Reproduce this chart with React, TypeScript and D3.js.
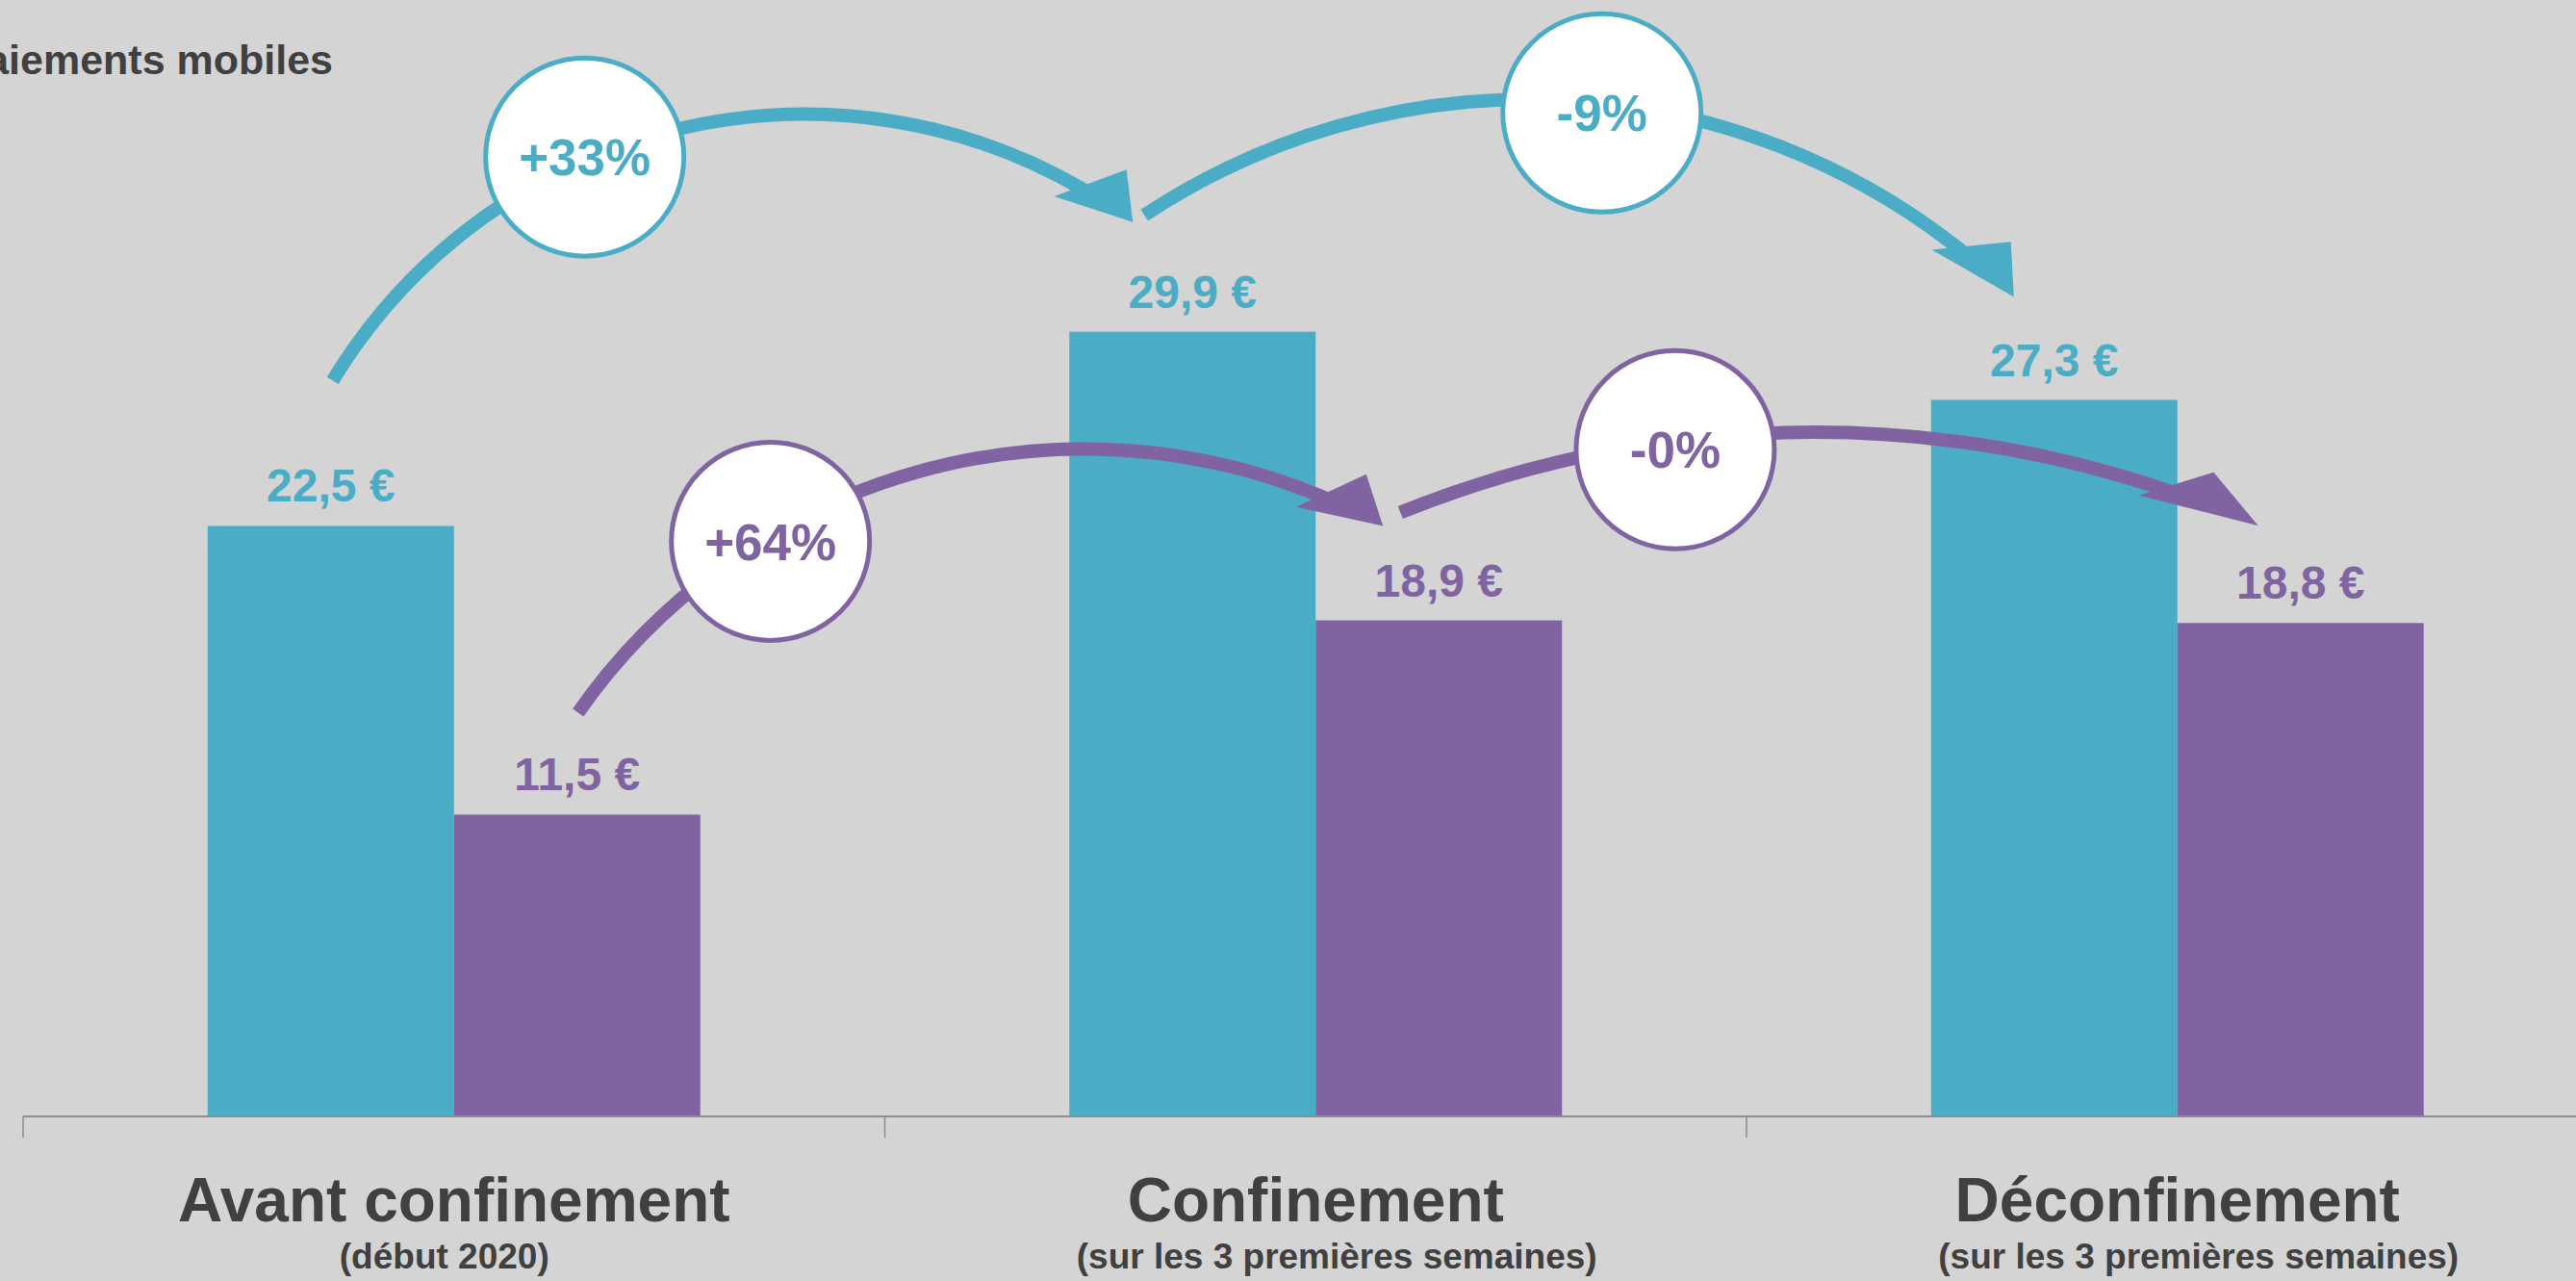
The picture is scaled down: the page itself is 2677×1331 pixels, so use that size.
import React from 'react';
import * as d3 from 'd3';

// ---------- data ----------
const categories = ['Avant confinement', 'Confinement', 'Déconfinement'];
const subtitles = ['(début 2020)', '(sur les 3 premières semaines)', '(sur les 3 premières semaines)'];
const seriesNames = ['Série bleue', 'Série violette'];
const valuesBlue = [22.5, 29.9, 27.3];
const valuesPurple = [11.5, 18.9, 18.8];
const changesBlue = ['+33%', '-9%'];
const changesPurple = ['+64%', '-0%'];
const titleText = 'Paiements mobiles';

// ---------- style / layout ----------
const W = 2677;
const H = 1331;
const BG = '#d4d4d4';
const TEXT = '#404040';
const COLORS = ['#4bacc6', '#8064a2'];
const FONT = '"Liberation Sans", Arial, Helvetica, sans-serif';
const AXIS_Y = 1160;
const STEP = 895.5;
const X_START = 24;
const BAND_PAD = 1 - 512 / STEP;
const PX_PER_UNIT = 27.27;
const SUBTITLE_SHIFT = [-10, 22, 22];

// arrow annotation geometry (pixel offsets relative to bar centre / bar top)
const arrowLayout = [
  { s: 0, from: 0, to: 1, so: [2, -151], to_: [-62, -114], r: 574, lab: 0.372, labDr: 3, back: [85, 35], rad: [-21, 41] },
  { s: 0, from: 1, to: 2, so: [-50, -121], to_: [-42, -107], r: 722, lab: 0.51, labDr: -10, back: [98, 40], rad: [-18, 40] },
  { s: 1, from: 0, to: 1, so: [1, -106], to_: [-58, -98], r: 642, lab: 0.288, labDr: -6, back: [92, 39], rad: [-20, 40] },
  { s: 1, from: 1, to: 2, so: [-40, -112], to_: [-44, -101], r: 1146, lab: 0.322, labDr: -9, back: [128, 63], rad: [-14, 34] },
];

const locale = d3.formatLocale({ decimal: ',', thousands: ' ', grouping: [3], currency: ['', ' €'] });
const fmt = locale.format('.1f');

export default function App() {
  const seriesValues = [valuesBlue, valuesPurple];
  const seriesChanges = [changesBlue, changesPurple];

  const x0 = d3
    .scaleBand<string>()
    .domain(categories)
    .range([X_START, X_START + STEP * categories.length])
    .paddingInner(BAND_PAD)
    .paddingOuter(BAND_PAD / 2);
  const x1 = d3.scaleBand<string>().domain(seriesNames).range([0, x0.bandwidth()]).padding(0);
  const yMax = 40;
  const y = d3.scaleLinear().domain([0, yMax]).range([AXIS_Y, AXIS_Y - yMax * PX_PER_UNIT]);

  const barCx = (s: number, c: number) => (x0(categories[c]) as number) + (x1(seriesNames[s]) as number) + x1.bandwidth() / 2;
  const barTop = (s: number, c: number) => y(seriesValues[s][c]);

  const boundaries = categories.map((c) => (x0(c) as number) - (x0.step() - x0.bandwidth()) / 2);
  boundaries.push(X_START + STEP * categories.length);

  const arrows = arrowLayout.map((a, i) => {
    const S: [number, number] = [barCx(a.s, a.from) + a.so[0], barTop(a.s, a.from) + a.so[1]];
    const T: [number, number] = [barCx(a.s, a.to) + a.to_[0], barTop(a.s, a.to) + a.to_[1]];
    const R = a.r;
    const mx = (S[0] + T[0]) / 2;
    const my = (S[1] + T[1]) / 2;
    const dx = T[0] - S[0];
    const dy = T[1] - S[1];
    const L = Math.hypot(dx, dy);
    const h = Math.sqrt(Math.max(0, R * R - (L / 2) ** 2));
    const nx = -dy / L;
    const ny = dx / L;
    const cx = mx + nx * h;
    const cy = my + ny * h;
    const a0 = Math.atan2(S[1] - cy, S[0] - cx);
    const a1 = Math.atan2(T[1] - cy, T[0] - cx);
    const lineBack = (a.back[0] + a.back[1]) / 2;
    const p = d3.path();
    p.arc(cx, cy, R, a0, a1 - lineBack / R, false);
    const pt = (rr: number, ang: number): [number, number] => [cx + rr * Math.cos(ang), cy + rr * Math.sin(ang)];
    const tip = pt(R, a1);
    const b1 = pt(R + a.rad[0], a1 - a.back[0] / R);
    const b2 = pt(R + a.rad[1], a1 - a.back[1] / R);
    const head = d3.line()([tip, b1, b2]) + 'Z';
    const la = a0 + a.lab * (a1 - a0);
    const lc = pt(R + a.labDr, la);
    const label = seriesChanges[a.s][a.from];
    return { key: i, d: p.toString(), head, lc, label, color: COLORS[a.s] };
  });

  return (
    <svg
      width={W}
      height={H}
      style={{ position: 'absolute', left: 0, top: 0, display: 'block' }}
      fontFamily={FONT}
    >
      <rect x={0} y={0} width={W} height={H} fill={BG} />

      {/* title */}
      <text x={346} y={77} textAnchor="end" fontSize={43} fontWeight="bold" fill={TEXT}>
        {titleText}
      </text>

      {/* bars */}
      {categories.map((c, ci) =>
        seriesNames.map((s, si) => (
          <rect
            key={c + s}
            x={(x0(c) as number) + (x1(s) as number)}
            y={y(seriesValues[si][ci])}
            width={x1.bandwidth()}
            height={AXIS_Y - y(seriesValues[si][ci])}
            fill={COLORS[si]}
          />
        ))
      )}

      {/* value labels */}
      {categories.map((c, ci) =>
        seriesNames.map((s, si) => (
          <text
            key={'v' + c + s}
            x={barCx(si, ci)}
            y={y(seriesValues[si][ci]) - 25}
            textAnchor="middle"
            fontSize={48}
            fontWeight="bold"
            fill={COLORS[si]}
          >
            {fmt(seriesValues[si][ci]) + ' €'}
          </text>
        ))
      )}

      {/* axis */}
      <line x1={X_START} x2={boundaries[boundaries.length - 1]} y1={AXIS_Y} y2={AXIS_Y} stroke="#8c8c8c" strokeWidth={2} />
      {boundaries.map((b, i) => (
        <line key={'t' + i} x1={b} x2={b} y1={AXIS_Y} y2={AXIS_Y + 22} stroke="#8c8c8c" strokeWidth={1.5} />
      ))}

      {/* category labels */}
      {categories.map((c, ci) => (
        <g key={'c' + c}>
          <text x={(x0(c) as number) + x0.bandwidth() / 2} y={1269} textAnchor="middle" fontSize={64} fontWeight="bold" fill={TEXT}>
            {c}
          </text>
          <text
            x={(x0(c) as number) + x0.bandwidth() / 2 + SUBTITLE_SHIFT[ci]}
            y={1318}
            textAnchor="middle"
            fontSize={37}
            fontWeight="bold"
            fill={TEXT}
          >
            {subtitles[ci]}
          </text>
        </g>
      ))}

      {/* arrows */}
      {arrows.map((a) => (
        <g key={'a' + a.key}>
          <path d={a.d} fill="none" stroke={a.color} strokeWidth={14} />
          <path d={a.head} fill={a.color} />
        </g>
      ))}
      {arrows.map((a) => (
        <g key={'l' + a.key}>
          <circle cx={a.lc[0]} cy={a.lc[1]} r={103} fill="#ffffff" stroke={a.color} strokeWidth={5} />
          <text x={a.lc[0]} y={a.lc[1]} dy="0.36em" textAnchor="middle" fontSize={53} fontWeight="bold" fill={a.color}>
            {a.label}
          </text>
        </g>
      ))}
    </svg>
  );
}
